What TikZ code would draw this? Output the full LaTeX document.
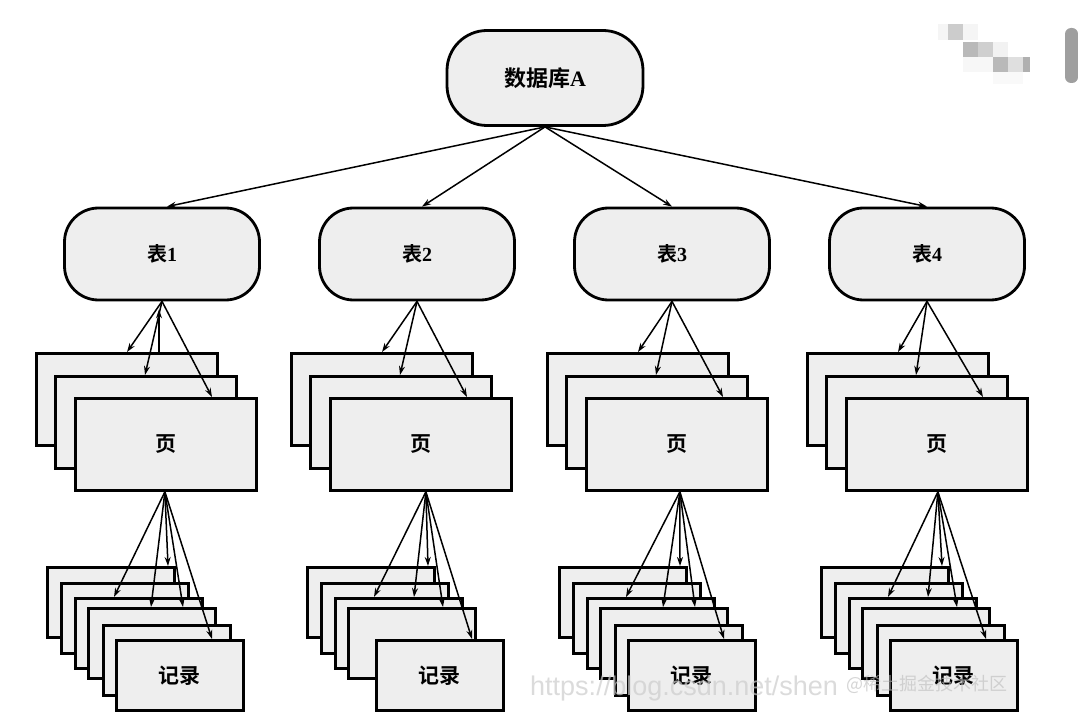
\documentclass[tikz,border=0pt]{standalone}
\usepackage{fontspec}
\setmainfont{Liberation Serif}
\newfontfamily\cjk{Noto Sans CJK SC}[BoldFont={Noto Sans CJK SC Bold}]
\newfontfamily\wmsans{Liberation Sans}
\usetikzlibrary{arrows.meta,calc}
\definecolor{boxfill}{HTML}{EEEEEE}
\tikzset{
  base/.style={draw=black, line width=2.8pt, fill=boxfill, inner sep=0pt},
  roundbox/.style={base, rounded corners=34pt, minimum width=195pt, minimum height=92pt,
     font=\fontsize{20}{20}\selectfont\bfseries},
  pg/.style={base, anchor=north west, minimum width=181pt, minimum height=92pt},
  rec/.style={base, anchor=north west, minimum width=127pt, minimum height=70pt},
  lbl/.style={font=\fontsize{21}{21}\selectfont\cjk\bfseries},
  arr/.style={-{Stealth[length=9pt,width=6pt]}, line width=1.5pt},
  wm/.style={inner sep=0pt, anchor=west}
}
\begin{document}
\begin{tikzpicture}[x=1pt,y=-1pt]
\useasboundingbox (0,0) rectangle (1078,727);
\fill[white] (0,0) rectangle (1078,727);

% top node
\node[roundbox, rounded corners=40pt, minimum height=95pt, minimum width=196pt,
      font=\fontsize{22}{22}\selectfont\bfseries] (db) at (545,78) {{\cjk 数据库}A};

% columns
\foreach \c/\tx/\pl/\rl/\sx/\ax in {1/162/35/46/-1/5, 2/417/290/306/5/5, 3/672/546/558/3/0, 4/927/806/820/1/0}{
  \node[roundbox] (t\c) at (\tx,254) {{\cjk 表}\c};
  \node[pg] (p\c a) at (\pl,352) {};
  \node[pg] (p\c b) at (\pl+19,375) {};
  \node[pg, lbl] (p\c c) at (\pl+39,397) {页};
  \draw[arr] (db.south) -- ([xshift=\ax pt]t\c.north);
  \draw[arr] (t\c.south) -- ([xshift=92pt]p\c a.north west);
  \draw[arr] (t\c.south) -- ([xshift=91pt]p\c b.north west);
  \draw[arr] (t\c.south) -- ([xshift=138pt]p\c c.north west);
  \foreach \i/\dx/\dy in {1/0/0, 2/14/16, 3/28/31, 4/41/41, 5/56/58}{
    \ifnum\c=2 \ifnum\i=5 \relax\else
      \node[rec] (r\c-\i) at (\rl+\dx,566+\dy) {};
    \fi\else
      \node[rec] (r\c-\i) at (\rl+\dx,566+\dy) {};
    \fi
  }
  \node[rec, lbl] (r\c-6) at (\rl+69,566+73) {记录};
  \coordinate (s\c) at ([xshift=\sx pt]p\c c.south);
  \draw[arr] (s\c) -- ([xshift=40pt]r\c-3.north west);
  \draw[arr] (s\c) -- ([xshift=122pt]r\c-1.north west);
  \draw[arr] (s\c) -- ([xshift=96pt]r\c-4.north west);
  \draw[arr] (s\c) -- ([xshift=97pt]r\c-6.north west);
}
\draw[arr] (s1) -- ([xshift=64pt]r1-4.north west);
\draw[arr] (s3) -- ([xshift=64pt]r3-4.north west);
\draw[arr] (s2) -- ([xshift=80pt]r2-3.north west);
\draw[arr] (s4) -- ([xshift=80pt]r4-3.north west);
% stray upward arrow in column 1
\draw[arr] ([xshift=124pt]p1a.north west) -- ([xshift=-3pt,yshift=-8pt]t1.south);

% watermarks
\node[wm, text=gray!40, opacity=0.7, font=\wmsans\fontsize{27}{27}\selectfont] (wm1) at (530,689) {https://blog.csdn.net/shen};
\node[wm, text=gray!50, opacity=0.65, font=\cjk\fontsize{18}{18}\selectfont] (wm2) at (846,684) {@稀土掘金技术社区};

% top-right pixel blur and scroll bar
\fill[gray!8] (938,24) rectangle (948,40);
\fill[gray!40] (948,24) rectangle (963,40);
\fill[gray!8] (963,24) rectangle (978,40);
\fill[gray!55] (963,42) rectangle (978,57);
\fill[gray!38] (978,42) rectangle (993,57);
\fill[gray!10] (993,42) rectangle (1008,57);
\fill[gray!6] (963,57) rectangle (993,72);
\fill[gray!55] (993,57) rectangle (1008,72);
\fill[gray!25] (1008,57) rectangle (1023,72);
\fill[gray!62] (1023,57) rectangle (1030,72);
\fill[gray!5] (993,72) rectangle (1023,84);
\fill[gray!75, rounded corners=6pt] (1065,28) rectangle (1078,83);
\end{tikzpicture}
\end{document}
